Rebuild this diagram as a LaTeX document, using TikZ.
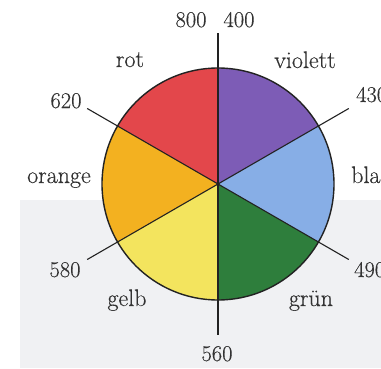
\documentclass[tikz,border=0pt]{standalone}
\usepackage{fontspec}
\setmainfont{Latin Modern Roman}[FakeBold=0.35]
\usetikzlibrary{calc}
\definecolor{bg}{HTML}{F0F1F3}
\definecolor{txt}{HTML}{333333}
\definecolor{lin}{HTML}{222222}
\definecolor{cred}{HTML}{E3474B}
\definecolor{cviolet}{HTML}{7D5CB6}
\definecolor{cblue}{HTML}{87AEE6}
\definecolor{cgreen}{HTML}{2E7E3C}
\definecolor{cyellow}{HTML}{F3E45E}
\definecolor{corange}{HTML}{F3B120}
\begin{document}
\begin{tikzpicture}[x=1pt,y=1pt,
  lbl/.style={inner sep=0pt, anchor=base, font=\fontsize{22.5}{26}\selectfont, text=txt},
  word/.style={lbl, font=\fontsize{24}{28}\selectfont},
  lblw/.style={lbl, anchor=base west},
  wordw/.style={word, anchor=base west},
  tickline/.style={draw=lin, line width=1.1pt},
  rim/.style={draw=lin, line width=1.4pt}]
\useasboundingbox (0,0) rectangle (381,368);
\clip (0,0) rectangle (381,368);
\fill[white] (0,0) rectangle (381,368);
\fill[bg] (20,0) rectangle (381,168);
\coordinate (C) at (218,184);
\foreach \a/\c in {30/cviolet, -30/cblue, -90/cgreen, -150/cyellow, 150/corange, 90/cred}
  \fill[\c] (C) -- ++(\a:116) arc[start angle=\a, delta angle=60, radius=116] -- cycle;
\foreach \a in {90,30,-30,-90,-150,150} {
  \coordinate (t\a) at ($(C)+(\a:151)$);
  \draw[tickline] (C) -- (t\a);
}
\draw[rim] (C) circle[radius=116];
\node[lbl] (l800) at (191,341) {800};
\node[lbl] (l400) at (239,341) {400};
\node[word] (lrot) at (130,301) {rot};
\node[word] (lviolett) at (305,300) {violett};
\node[lbl] (l620) at (66,260) {620};
\node[lblw] (l430) at (356,266) {430};
\node[word] (lorange) at (59,185) {orange};
\node[wordw] (lblau) at (351,185) {blau};
\node[lbl] (l580) at (65,91) {580};
\node[lblw] (l490) at (354,91) {490};
\node[word] (lgelb) at (127,62) {gelb};
\node[word] (lgruen) at (311,62) {grün};
\node[lbl] (l560) at (217,7) {560};
\end{tikzpicture}
\end{document}
